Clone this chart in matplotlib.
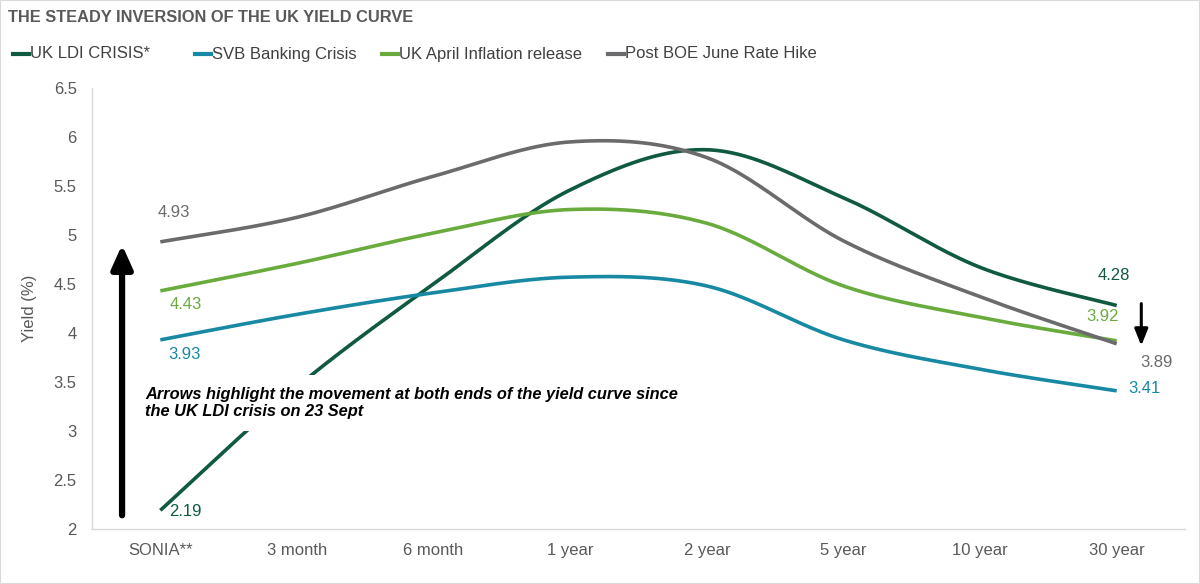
import numpy as np
import matplotlib
matplotlib.use("Agg")
import matplotlib.pyplot as plt
from matplotlib.lines import Line2D
from matplotlib.patches import Rectangle

plt.rcParams['font.family'] = ['Liberation Sans', 'DejaVu Sans']

tenors = ['SONIA**', '3 month', '6 month', '1 year', '2 year', '5 year', '10 year', '30 year']
ldi_crisis = [2.19, 3.45, 4.50, 5.46, 5.87, 5.38, 4.67, 4.28]
svb_crisis = [3.93, 4.19, 4.41, 4.57, 4.48, 3.93, 3.63, 3.41]
april_cpi = [4.43, 4.71, 5.02, 5.26, 5.12, 4.48, 4.16, 3.92]
boe_hike = [4.93, 5.18, 5.60, 5.95, 5.79, 4.94, 4.37, 3.89]

names = ['UK LDI CRISIS*', 'SVB Banking Crisis', 'UK April Inflation release', 'Post BOE June Rate Hike']
colors = ['#0f5a40', '#1789a3', '#6aab3e', '#6b6b6e']


def smooth(xs, ys, n=40):
    # excel style smoothed line: catmull-rom through the points
    p = np.column_stack([xs, ys]).astype(float)
    p = np.vstack([p[0], p, p[-1]])
    out = []
    for i in range(1, len(p) - 2):
        p0, p1, p2, p3 = p[i - 1], p[i], p[i + 1], p[i + 2]
        c1 = p1 + (p2 - p0) / 6
        c2 = p2 - (p3 - p1) / 6
        t = np.linspace(0, 1, n)[:, None]
        seg = (1 - t) ** 3 * p1 + 3 * (1 - t) ** 2 * t * c1 + 3 * (1 - t) * t ** 2 * c2 + t ** 3 * p2
        out.append(seg if i == 1 else seg[1:])
    out = np.vstack(out)
    return out[:, 0], out[:, 1]


fig = plt.figure(figsize=(12, 5.84), dpi=100)
ax = fig.add_axes([92 / 1200, 1 - 529 / 584, (1185 - 92) / 1200, (529 - 88) / 584])

x = np.arange(len(tenors))
series = [ldi_crisis, svb_crisis, april_cpi, boe_hike]
for vals, c in zip(series, colors):
    sx, sy = smooth(x, vals)
    ax.plot(sx, sy, color=c, lw=2.6, solid_capstyle='butt', zorder=3)

ax.set_xlim(-0.5, len(tenors) - 0.5)
ax.set_ylim(2, 6.5)
ax.set_yticks(np.arange(2, 6.51, 0.5))
ax.set_yticklabels(['2', '2.5', '3', '3.5', '4', '4.5', '5', '5.5', '6', '6.5'])
ax.set_xticks(x)
ax.set_xticklabels(tenors)
ax.tick_params(length=0, labelsize=12, colors='#595959')
ax.tick_params(axis='x', pad=10)
ax.tick_params(axis='y', pad=11)
for s in ['top', 'right']:
    ax.spines[s].set_visible(False)
for s in ['left', 'bottom']:
    ax.spines[s].set_color('#d9d9d9')
    ax.spines[s].set_linewidth(1)
ax.set_ylabel('Yield (%)', fontsize=12, color='#595959')
ax.yaxis.set_label_coords(-55 / 1093, 0.5)

# data labels at both ends
lab = dict(textcoords='offset pixels', fontsize=12, ha='center', va='center')
ax.annotate(f'{boe_hike[0]:.2f}', (0, boe_hike[0]), xytext=(13, 29), color=colors[3], **lab)
ax.annotate(f'{april_cpi[0]:.2f}', (0, april_cpi[0]), xytext=(25, -14), color=colors[2], **lab)
ax.annotate(f'{svb_crisis[0]:.2f}', (0, svb_crisis[0]), xytext=(24, -15), color=colors[1], **lab)
ax.annotate(f'{ldi_crisis[0]:.2f}', (0, ldi_crisis[0]), xytext=(25, -1), color=colors[0], **lab)
ax.annotate(f'{ldi_crisis[-1]:.2f}', (7, ldi_crisis[-1]), xytext=(-3, 30), color=colors[0], **lab)
ax.annotate(f'{april_cpi[-1]:.2f}', (7, april_cpi[-1]), xytext=(-14, 24), color=colors[2], **lab)
ax.annotate(f'{boe_hike[-1]:.2f}', (7, boe_hike[-1]), xytext=(40, -19), color=colors[3], **lab)
ax.annotate(f'{svb_crisis[-1]:.2f}', (7, svb_crisis[-1]), xytext=(28, 2), color=colors[1], **lab)

# arrows
ax.annotate('', xy=(-0.28, 4.90), xytext=(-0.28, 2.14),
            arrowprops=dict(arrowstyle='-|>,head_width=0.45,head_length=1.0', lw=4.5,
                            color='black', shrinkA=0, shrinkB=0, mutation_scale=14), zorder=5)
ax.annotate('', xy=(7.18, 3.87), xytext=(7.18, 4.30),
            arrowprops=dict(arrowstyle='-|>,head_width=0.4,head_length=1.0', lw=2.2,
                            color='black', shrinkA=0, shrinkB=0, mutation_scale=10), zorder=5)

fig.text(145 / 1200, 1 - 403 / 584,
         'Arrows highlight the movement at both ends of the yield curve since\nthe UK LDI crisis on 23 Sept',
         fontsize=11.8, fontweight='bold', fontstyle='italic', color='black', va='center', ha='left',
         linespacing=1.22, zorder=10,
         bbox=dict(facecolor='white', edgecolor='none', boxstyle='square,pad=0.7'))

# title
fig.text(8 / 1200, 1 - 18 / 584, 'THE STEADY INVERSION OF THE UK YIELD CURVE', fontsize=11.8,
         fontweight='bold', color='#595959', va='center')

# legend laid out by hand to match the spacing of the original
leg_x = [13, 195, 382, 608]
leg_y = 1 - 54 / 584
for lx, name, c in zip(leg_x, names, colors):
    fig.add_artist(Line2D([lx / 1200, (lx + 16) / 1200], [leg_y, leg_y], color=c, lw=3,
                          transform=fig.transFigure))
    fig.text((lx + 17) / 1200, leg_y, name, fontsize=12, color='#404040', va='center', ha='left')

fig.patches.append(Rectangle((0, 0), 1, 1, transform=fig.transFigure, fill=False,
                             edgecolor='#d9d9d9', lw=1.5))

fig.savefig('out.png', dpi=100, facecolor='white')
